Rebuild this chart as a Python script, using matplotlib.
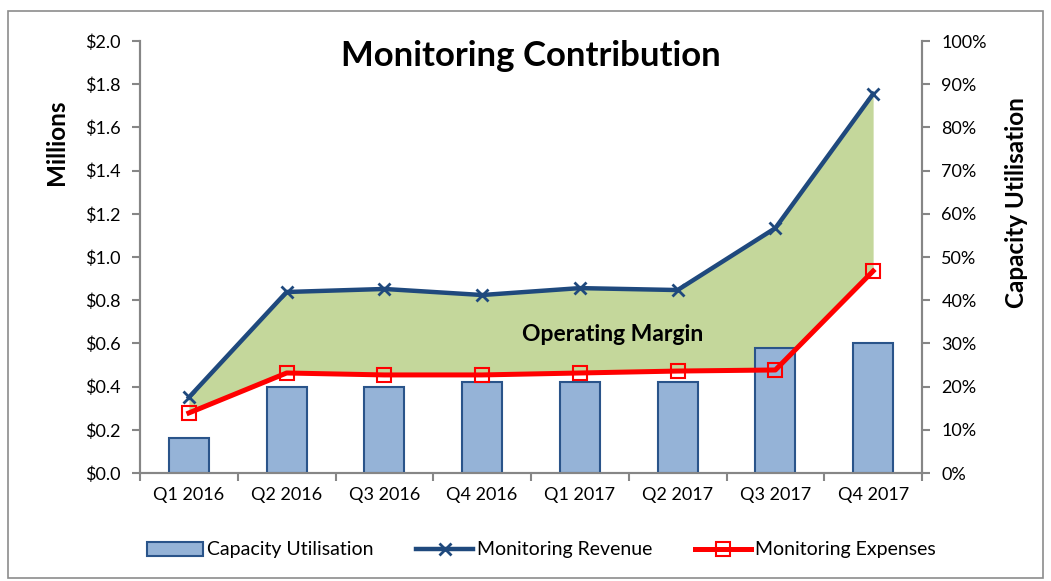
import matplotlib
matplotlib.use("Agg")
import matplotlib.pyplot as plt
from matplotlib.ticker import FuncFormatter, FixedLocator
from matplotlib.patches import Rectangle
import numpy as np

quarters = ["Q1 2016", "Q2 2016", "Q3 2016", "Q4 2016",
            "Q1 2017", "Q2 2017", "Q3 2017", "Q4 2017"]
utilisation = [8, 20, 20, 21, 21, 21, 29, 30]  # percent
revenue = [0.35, 0.838, 0.852, 0.824, 0.856, 0.847, 1.134, 1.755]  # $M
expenses = [0.278, 0.463, 0.454, 0.454, 0.463, 0.472, 0.477, 0.935]  # $M

plt.rcParams['font.family'] = ['Lato', 'DejaVu Sans']
grey = '#868686'
navy = '#1F497D'

W, H = 1051, 581
fig = plt.figure(figsize=(W / 100, H / 100), dpi=100)
fig.patches.append(Rectangle((8 / W, 1 - 578 / H), 1035 / W, 567 / H,
                             transform=fig.transFigure, fill=False,
                             edgecolor='#8c8c8c', linewidth=1.2))

pos = [140 / W, 1 - 473 / H, 782 / W, 432 / H]
ax = fig.add_axes(pos)
x = np.arange(len(quarters))

# operating margin area
ax.fill_between(x, expenses, revenue, color='#C4D79B', linewidth=0)
ax.set_xlim(-0.5, len(quarters) - 0.5)
ax.set_ylim(0, 2.0)
ax.set_yticks(np.arange(0, 2.01, 0.2))
ax.yaxis.set_major_formatter(FuncFormatter(lambda v, p: f"${v:.1f}"))
ax.set_xticks(x)
ax.set_xticklabels(quarters)
ax.xaxis.set_minor_locator(FixedLocator(np.arange(-0.5, len(quarters), 1)))
ax.tick_params(axis='x', which='major', length=0, pad=10, labelsize=13)
ax.tick_params(axis='x', which='minor', length=6, width=1.5, color=grey, direction='out')
ax.tick_params(axis='y', length=6, width=1.5, color=grey, labelsize=13, pad=8)
ax.spines['top'].set_visible(False)
for s in ['left', 'bottom', 'right']:
    ax.spines[s].set_color(grey)
    ax.spines[s].set_linewidth(1.5)

# capacity utilisation bars
ax2 = ax.twinx()
bars = ax2.bar(x, utilisation, width=0.41, color='#95B3D7', edgecolor='#2A548A',
               linewidth=1.5, label='Capacity Utilisation')
ax2.set_ylim(0, 100)
ax2.set_yticks(np.arange(0, 101, 10))
ax2.yaxis.set_major_formatter(FuncFormatter(lambda v, p: f"{v:.0f}%"))
ax2.tick_params(axis='y', length=6, width=1.5, color=grey, labelsize=13, pad=8)
ax2.spines['top'].set_visible(False)
for s in ['left', 'bottom', 'right']:
    ax2.spines[s].set_color(grey)
    ax2.spines[s].set_linewidth(1.5)

# revenue / expense lines on top
ax3 = ax.twinx()
ax3.set_ylim(0, 2.0)
ax3.axis('off')
l1, = ax3.plot(x, revenue, color=navy, linewidth=3.2, marker='x', markersize=8,
               markeredgewidth=2, label='Monitoring Revenue')
l2, = ax3.plot(x, expenses, color='#FF0000', linewidth=3.6, marker='s', markersize=10,
               markerfacecolor='none', markeredgecolor='#FF0000', markeredgewidth=1.5,
               label='Monitoring Expenses')

ax3.text(0.5, (473 - 56) / 432, "Monitoring Contribution", transform=ax3.transAxes,
         ha='center', va='center', fontsize=25, fontweight='bold')
ax3.text(4.33, 0.64, "Operating Margin", ha='center', va='center',
         fontsize=16.5, fontweight='bold')

fig.text(57 / W, 1 - 142 / H, "Millions", rotation=90, ha='center', va='center',
         fontsize=17.5, fontweight='bold')
fig.text(1016 / W, 1 - 203 / H, "Capacity Utilisation", rotation=90, ha='center',
         va='center', fontsize=17.5, fontweight='bold')

fig.legend([bars, l1, l2], ['Capacity Utilisation', 'Monitoring Revenue', 'Monitoring Expenses'],
           loc='center', bbox_to_anchor=(0.515, 1 - 550 / H), ncol=3, frameon=False,
           fontsize=14, handlelength=2.9, columnspacing=2.2, handletextpad=0.2)

fig.savefig("out.png", dpi=100)
